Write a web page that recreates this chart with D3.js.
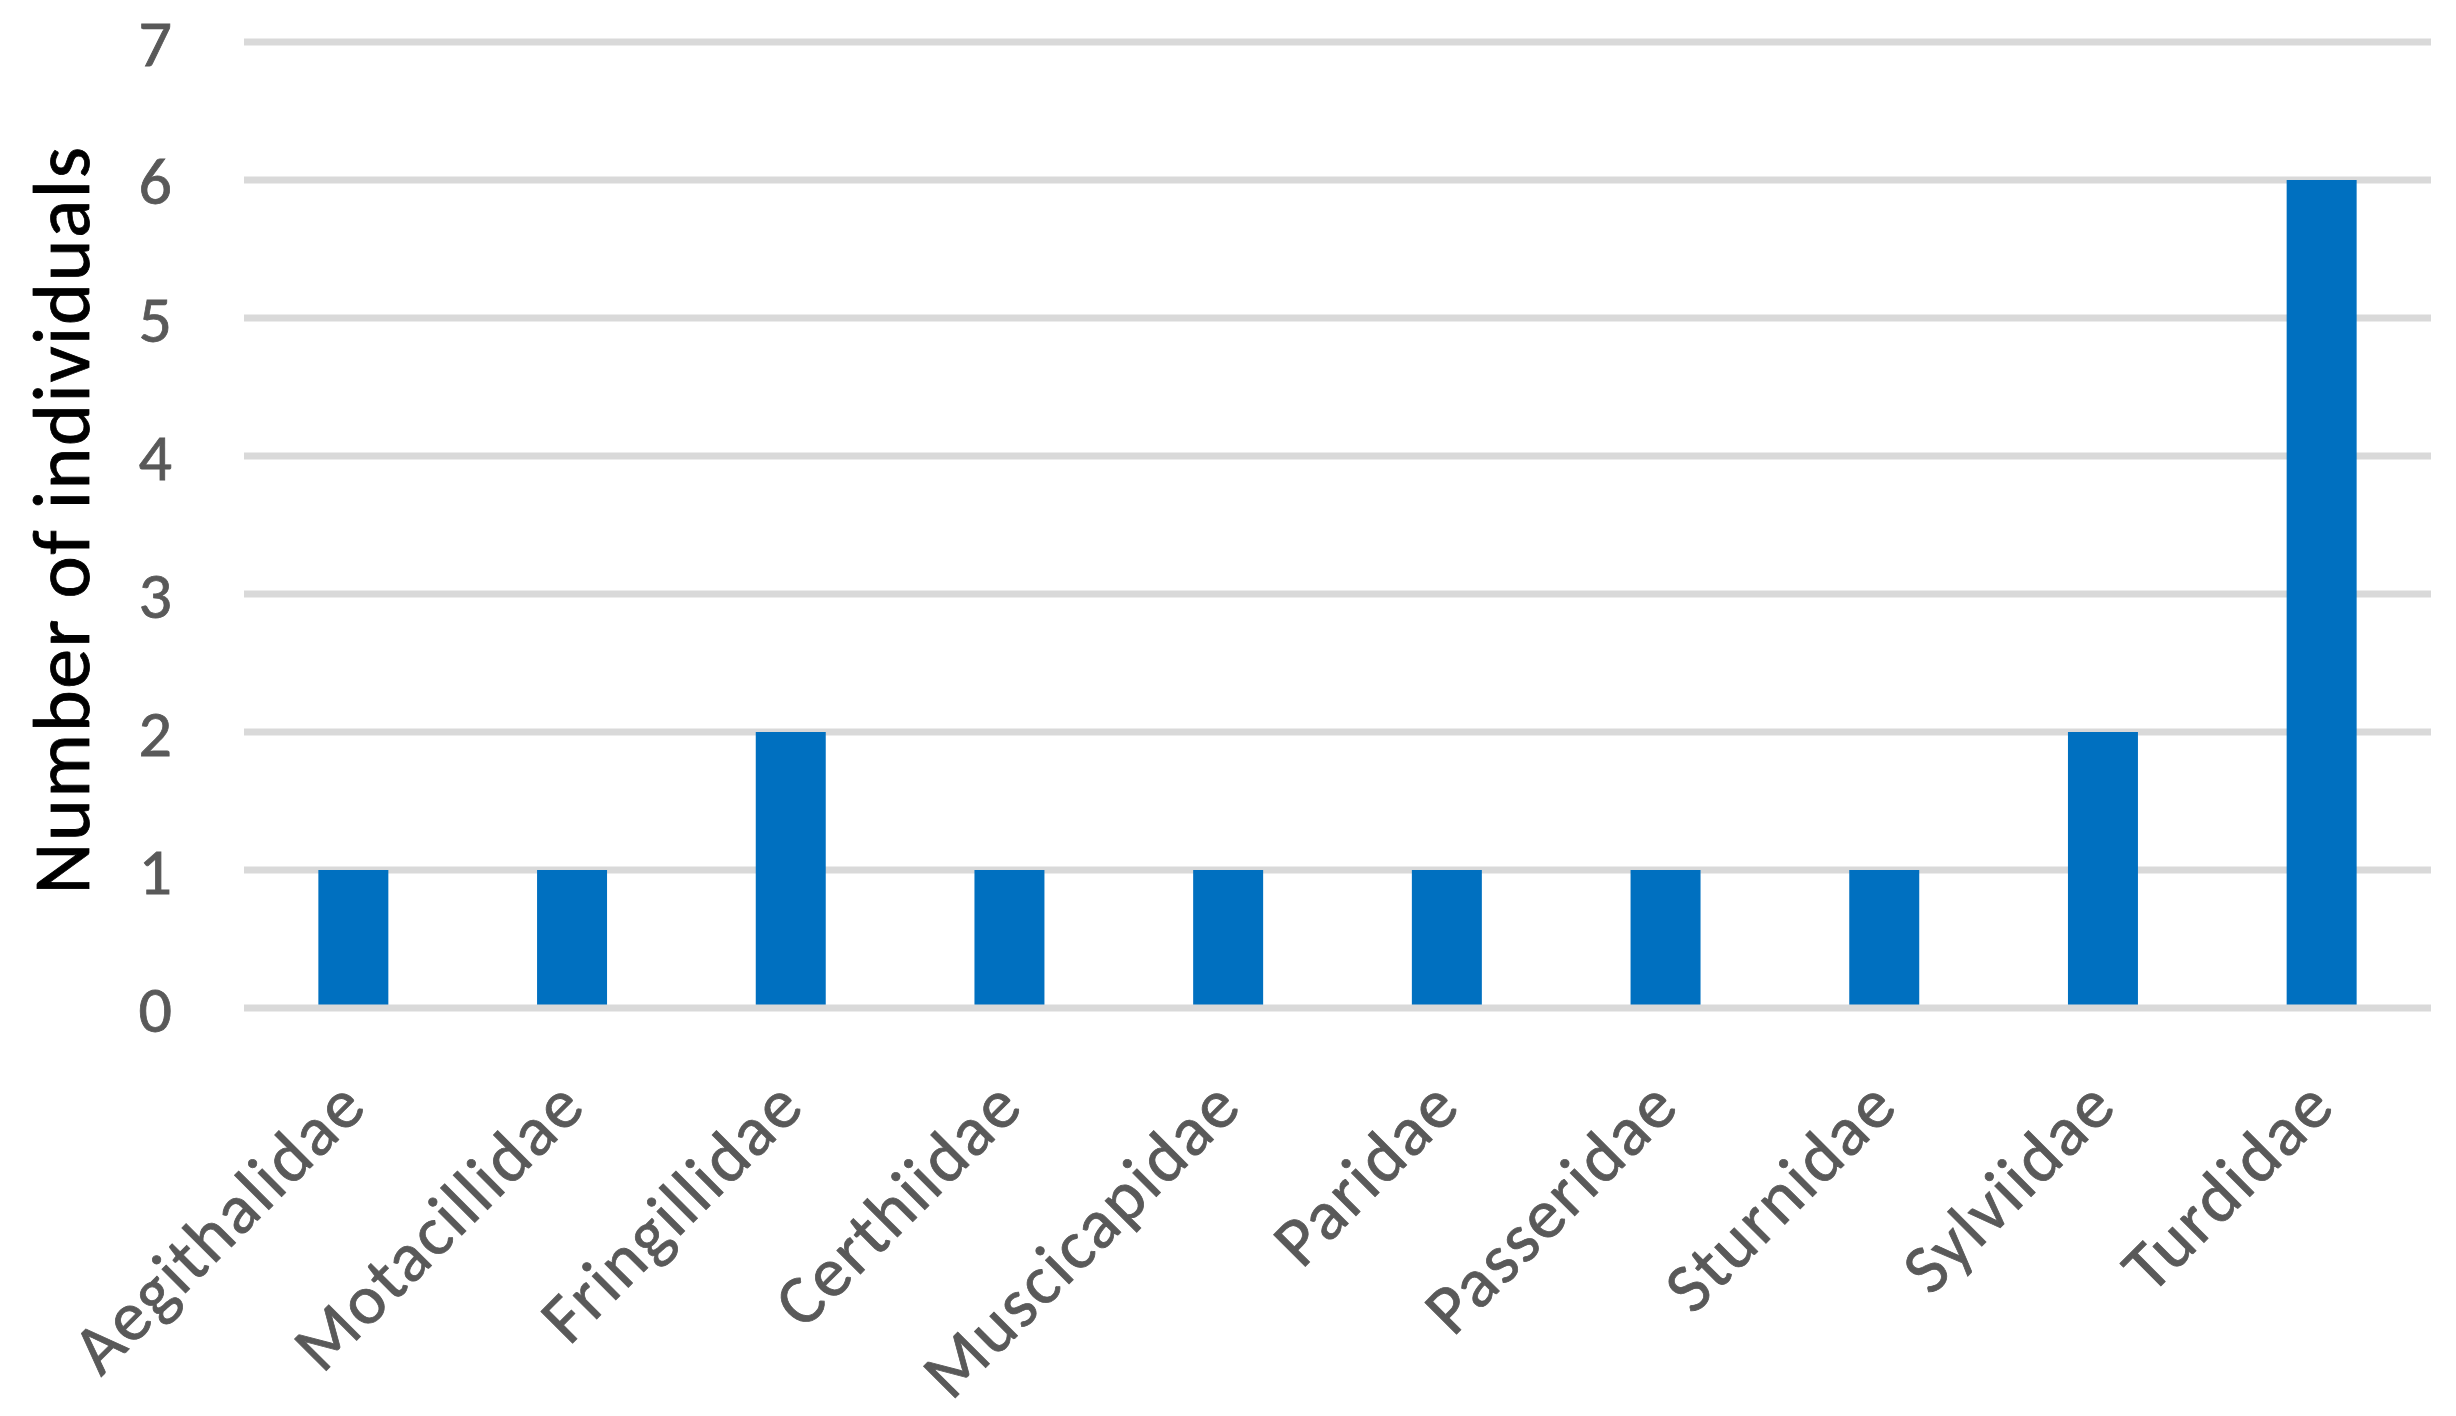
<!DOCTYPE html>
<html>
<head>
<meta charset="utf-8">
<script src="https://cdn.jsdelivr.net/npm/d3@7"></script>
<style>
  html, body { margin: 0; padding: 0; background: #fff; }
  svg { display: block; }
</style>
</head>
<body>
<svg id="chart" width="2456" height="1416"></svg>
<script>
const categories = ["Aegithalidae", "Motacillidae", "Fringillidae", "Certhiidae", "Muscicapidae", "Paridae", "Passeridae", "Sturnidae", "Sylviidae", "Turdidae"];
const values = [1, 1, 2, 1, 1, 1, 1, 1, 2, 6];
const yTicks = [0, 1, 2, 3, 4, 5, 6, 7];
const yTitle = "Number of individuals";

const W = 2456, H = 1416;
const plot = { left: 244, right: 2431, top: 42, bottom: 1008 };
const FONT = "Calibri, Carlito, Lato, sans-serif";

const svg = d3.select("#chart");

const x = d3.scaleBand().domain(categories).range([plot.left, plot.right]).paddingInner(0.68).paddingOuter(0.34);
const y = d3.scaleLinear().domain([0, 7]).range([plot.bottom, plot.top]);

// gridlines
svg.append("g").selectAll("line").data(yTicks.filter(d => d !== 0)).join("line")
  .attr("x1", plot.left).attr("x2", plot.right)
  .attr("y1", d => y(d)).attr("y2", d => y(d))
  .attr("stroke", "#d9d9d9").attr("stroke-width", 7);

// bars
svg.append("g").selectAll("rect").data(values).join("rect")
  .attr("x", (d, i) => x(categories[i]))
  .attr("width", x.bandwidth())
  .attr("y", d => y(d))
  .attr("height", d => y(0) - y(d))
  .attr("fill", "#0070c0");

// zero axis line
svg.append("line")
  .attr("x1", plot.left).attr("x2", plot.right)
  .attr("y1", y(0)).attr("y2", y(0))
  .attr("stroke", "#d9d9d9").attr("stroke-width", 7);

// y tick labels
const yAxis = d3.axisLeft(y).tickValues(yTicks).tickSize(0).tickPadding(0).tickFormat(d3.format("d"));
const gy = svg.append("g").attr("transform", `translate(172,0)`).call(yAxis);
gy.select(".domain").remove();
gy.selectAll("text")
  .attr("font-family", FONT).attr("font-size", 66).attr("fill", "#595959")
  .attr("stroke", "#595959").attr("stroke-width", 0.8)
  .attr("dy", "0.36em");

// x tick labels
const xAxis = d3.axisBottom(x).tickSize(0).tickPadding(0);
const gx = svg.append("g").attr("transform", `translate(0,${plot.bottom})`).call(xAxis);
gx.select(".domain").remove();
gx.selectAll(".tick text")
  .attr("font-family", FONT).attr("font-size", 70).attr("fill", "#595959")
  .attr("stroke", "#595959").attr("stroke-width", 0.8)
  .attr("letter-spacing", 2)
  .attr("text-anchor", "end")
  .attr("dy", 0)
  .attr("y", 0)
  .attr("transform", "translate(16,101) rotate(-45)");

// y title
svg.append("text")
  .attr("transform", `translate(89,520) rotate(-90)`)
  .attr("text-anchor", "middle")
  .attr("font-family", FONT).attr("font-size", 80).attr("fill", "#000")
  .attr("stroke", "#000").attr("stroke-width", 0.8)
  .attr("letter-spacing", 1.5)
  .text(yTitle);
</script>
</body>
</html>
